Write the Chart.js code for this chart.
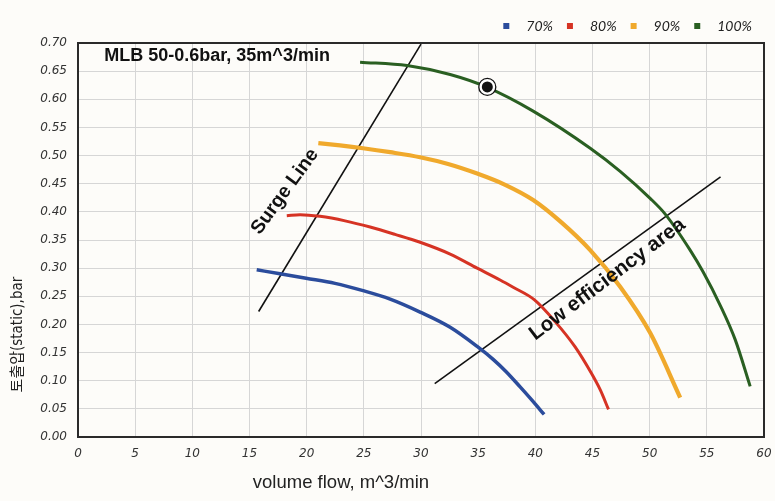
<!DOCTYPE html>
<html>
<head>
<meta charset="utf-8">
<script src="https://cdn.jsdelivr.net/npm/chart.js@4.4.1/dist/chart.umd.min.js"></script>
<style>
  html, body { margin: 0; padding: 0; background: #fdfcf9; }
  #wrap { width: 775px; height: 501px; }
</style>
</head>
<body>
<div id="wrap"><canvas id="chart" width="775" height="501"></canvas></div>
<script>
'use strict';

// volume flow (m^3/min) and static pressure (bar) per speed curve
const flow70 = [15.63, 17.67, 19.95, 22.48, 24.93, 27.30, 29.92, 32.55, 34.91, 36.31, 37.45, 38.67, 39.72, 40.77];
const pres70 = [0.297, 0.290, 0.282, 0.273, 0.260, 0.245, 0.222, 0.195, 0.161, 0.138, 0.116, 0.089, 0.065, 0.040];

const flow80 = [18.26, 19.42, 21.17, 23.36, 25.55, 27.73, 29.92, 32.55, 34.91, 36.92, 38.06, 39.90, 41.73, 43.48, 44.88, 45.67, 46.40];
const pres80 = [0.393, 0.395, 0.392, 0.384, 0.373, 0.360, 0.346, 0.325, 0.300, 0.279, 0.266, 0.244, 0.205, 0.160, 0.114, 0.084, 0.049];

const flow90 = [21.02, 22.92, 24.93, 27.30, 29.92, 32.37, 34.91, 37.36, 39.81, 42.18, 44.80, 47.42, 50.04, 52.67];
const pres90 = [0.522, 0.518, 0.513, 0.506, 0.497, 0.485, 0.468, 0.448, 0.421, 0.383, 0.332, 0.267, 0.185, 0.070];

const flow100 = [24.67, 28.78, 32.55, 35.70, 39.81, 44.80, 47.42, 50.04, 51.36, 53.54, 54.68, 56.17, 57.48, 58.79];
const pres100 = [0.666, 0.660, 0.644, 0.622, 0.579, 0.513, 0.472, 0.424, 0.396, 0.332, 0.293, 0.234, 0.173, 0.090];

const surgeFlow = [15.8, 30.0];
const surgePres = [0.223, 0.698];

const lowEffFlow = [31.2, 56.2];
const lowEffPres = [0.095, 0.462];

const pointFlow = [35.8];
const pointPres = [0.622];

const seriesLabels = ['70%', '80%', '90%', '100%'];
const seriesColors = ['#2b4c9c', '#d63324', '#f0a92c', '#2a5f22'];

const toXY = (xs, ys) => xs.map((x, i) => ({ x: x, y: ys[i] }));

// small square sitting at the left of a wider box, so the legend text gets more room
function legendSquare(color) {
    const c = document.createElement('canvas');
    c.width = 18;
    c.height = 6;
    const g = c.getContext('2d');
    g.fillStyle = color;
    g.fillRect(2, 0, 6, 6);
    return c;
}

function curve(label, xs, ys, color, width) {
    return {
        label: label,
        data: toXY(xs, ys),
        borderColor: color,
        backgroundColor: color,
        borderWidth: width,
        showLine: true,
        pointRadius: 0,
        pointStyle: legendSquare(color),
        cubicInterpolationMode: 'monotone',
        borderCapStyle: 'butt'
    };
}

function straight(label, xs, ys) {
    return {
        label: label,
        data: toXY(xs, ys),
        borderColor: '#111',
        borderWidth: 1.6,
        showLine: true,
        pointRadius: 0,
        tension: 0
    };
}

// background, frame and free texts
const decor = {
    id: 'decor',
    beforeDraw(chart) {
        const ctx = chart.ctx;
        ctx.save();
        ctx.fillStyle = '#fdfcf9';
        ctx.fillRect(0, 0, chart.width, chart.height);
        ctx.restore();
    },
    afterDraw(chart) {
        const ctx = chart.ctx;
        const xs = chart.scales.x;
        const ys = chart.scales.y;
        const area = chart.chartArea;
        ctx.save();

        ctx.strokeStyle = '#2a2a2a';
        ctx.lineWidth = 2;
        ctx.strokeRect(area.left, area.top, area.right - area.left, area.bottom - area.top);

        ctx.fillStyle = '#111';
        ctx.textBaseline = 'middle';
        ctx.textAlign = 'left';
        ctx.font = 'bold 18px "Liberation Sans", Arial, sans-serif';
        ctx.fillText('MLB 50-0.6bar, 35m^3/min', xs.getPixelForValue(2.3), ys.getPixelForValue(0.677));

        ctx.textAlign = 'center';
        ctx.font = 'bold 19.5px "Liberation Sans", Arial, sans-serif';
        ctx.save();
        ctx.translate(xs.getPixelForValue(18.1), ys.getPixelForValue(0.436));
        ctx.rotate(-54 * Math.PI / 180);
        ctx.fillText('Surge Line', 0, 0);
        ctx.restore();

        ctx.font = 'bold 20.5px "Liberation Sans", Arial, sans-serif';
        ctx.save();
        ctx.translate(xs.getPixelForValue(46.3), ys.getPixelForValue(0.280));
        ctx.rotate(-37 * Math.PI / 180);
        ctx.fillText('Low efficiency area', 0, 0);
        ctx.restore();

        // axis titles
        ctx.fillStyle = '#222';
        ctx.font = '18.5px "Liberation Sans", Arial, sans-serif';
        ctx.fillText('volume flow, m^3/min', xs.getPixelForValue(23.0), chart.height - 18);

        ctx.save();
        ctx.translate(18, ys.getPixelForValue(0.182));
        ctx.rotate(-Math.PI / 2);
        ctx.font = '15px "Liberation Sans Narrow", "DejaVu Sans Condensed", "Noto Sans CJK KR", sans-serif';
        ctx.fillText('토출압(static),bar', 0, 0);
        ctx.restore();

        ctx.restore();
    }
};

const datasets = [
    curve(seriesLabels[0], flow70, pres70, seriesColors[0], 3.5),
    curve(seriesLabels[1], flow80, pres80, seriesColors[1], 3),
    curve(seriesLabels[2], flow90, pres90, seriesColors[2], 4.2),
    {
        label: 'dot',
        data: toXY(pointFlow, pointPres),
        pointRadius: 5.5,
        pointBackgroundColor: '#111',
        pointBorderColor: '#111',
        pointBorderWidth: 0,
        showLine: false
    },
    {
        label: 'ring',
        data: toXY(pointFlow, pointPres),
        pointRadius: 8.5,
        pointBackgroundColor: '#ffffff',
        pointBorderColor: '#111',
        pointBorderWidth: 1.3,
        showLine: false
    },
    curve(seriesLabels[3], flow100, pres100, seriesColors[3], 3),
    straight('surge', surgeFlow, surgePres),
    straight('lowEff', lowEffFlow, lowEffPres)
];

const tickFont = { family: '"DejaVu Sans", Verdana, sans-serif', size: 12, style: 'italic' };

new Chart(document.getElementById('chart'), {
    type: 'scatter',
    data: { datasets: datasets },
    plugins: [decor],
    options: {
        responsive: false,
        animation: false,
        events: [],
        layout: { padding: { top: 7, right: 11, left: 0, bottom: 0 } },
        plugins: {
            tooltip: { enabled: false },
            legend: {
                display: true,
                position: 'top',
                align: 'end',
                labels: {
                    filter: (item) => seriesLabels.includes(item.text),
                    usePointStyle: true,
                    pointStyleWidth: 18,
                    boxHeight: 6,
                    padding: 12,
                    color: '#222',
                    font: { family: 'Lato, "Open Sans", sans-serif', size: 14, style: 'italic' }
                }
            }
        },
        scales: {
            x: {
                type: 'linear',
                min: 0,
                max: 60,
                afterFit: (s) => { s.height = 64; s.paddingRight = 0; s.paddingLeft = 0; },
                ticks: { stepSize: 5, padding: 10, color: '#333', font: tickFont },
                grid: { color: '#d6d6d6', lineWidth: 1, drawTicks: false },
                border: { color: '#2a2a2a', width: 2 }
            },
            y: {
                type: 'linear',
                min: 0,
                max: 0.7,
                afterFit: (s) => { s.width = 78; },
                ticks: {
                    stepSize: 0.05,
                    padding: 11,
                    color: '#333',
                    font: tickFont,
                    callback: (v) => Number(v).toFixed(2)
                },
                grid: { color: '#d6d6d6', lineWidth: 1, drawTicks: false },
                border: { color: '#2a2a2a', width: 2 }
            }
        }
    }
});
</script>
</body>
</html>
